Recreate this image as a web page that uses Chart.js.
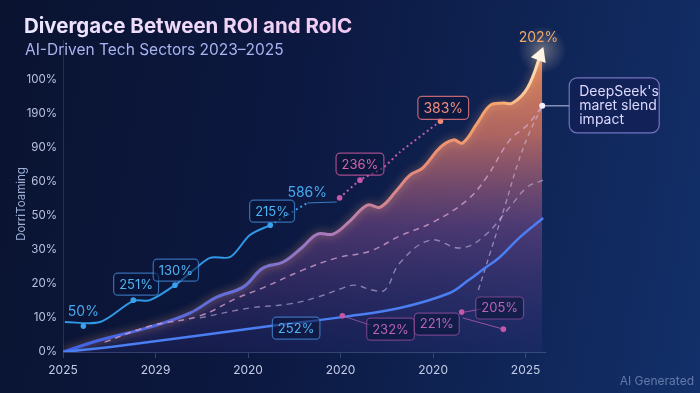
<!DOCTYPE html>
<html>
<head>
<meta charset="utf-8">
<script src="https://cdn.jsdelivr.net/npm/chart.js@4.4.1/dist/chart.umd.min.js"></script>
<style>
html, body { margin: 0; padding: 0; }
body {
    width: 700px; height: 393px; overflow: hidden;
    background: linear-gradient(100deg, #0a1330 0%, #0c1840 40%, #10275a 78%, #13306a 100%);
}
</style>
</head>
<body>
<canvas id="myChartRoi" width="700" height="393"></canvas>
<script>

// axis labels (as printed on the picture)
const xLabels = ['2025', '2029', '2020', '2020', '2020', '2025'];
const yLabels = ['0%', '10%', '20%', '30%', '50%', '60%', '90%', '190%', '100%'];

// main ROI area (wavy, ends with arrow)
const roiX = [0, 0.40, 0.94, 1.37, 1.66, 1.95, 2.16, 2.38, 2.59, 2.75, 2.92, 3.10, 3.29, 3.43, 3.61, 3.75, 3.89, 4.08, 4.22, 4.32, 4.48, 4.62, 4.76, 4.86, 5.02, 5.18];
const roiY = [0, 0.35, 0.73, 1.14, 1.61, 1.91, 2.46, 2.64, 3.08, 3.46, 3.46, 3.84, 4.31, 4.25, 4.75, 5.19, 5.40, 6.01, 6.22, 6.13, 6.72, 7.24, 7.30, 7.30, 7.74, 8.86];

// RoIC solid blue line
const roicX = [0, 0.62, 2.24, 3.03, 3.64, 4.18, 4.37, 4.56, 4.72, 4.94, 5.19];
const roicY = [0, 0.18, 0.76, 1.03, 1.29, 1.73, 2.08, 2.46, 2.78, 3.37, 3.93];

// dashed projections
const dashAX = [0.45, 0.94, 1.48, 1.88, 2.16, 2.59, 2.96, 3.32, 3.64, 4.00, 4.37, 4.58, 4.83, 5.02, 5.18];
const dashAY = [0.29, 0.76, 1.06, 1.58, 1.88, 2.40, 2.76, 2.96, 3.40, 3.81, 4.46, 5.13, 6.22, 6.66, 7.21];
const dashBX = [4.49, 4.62, 4.78, 4.91, 5.03, 5.18];
const dashBY = [1.82, 2.93, 4.31, 5.48, 6.36, 7.21];
const dashCX = [1.48, 2.02, 2.45, 2.75, 3.03, 3.16, 3.34, 3.48, 3.64, 3.97, 4.29, 4.54, 4.83, 5.02, 5.19];
const dashCY = [1.00, 1.29, 1.41, 1.61, 1.88, 1.96, 1.82, 1.82, 2.61, 3.28, 3.05, 3.37, 4.25, 4.84, 5.04];

// annotation trend line (blue part, dotted part, pink part)
const trendX = [0.02, 0.40, 0.76, 0.94, 1.21, 1.41, 1.59, 1.81, 2.02, 2.24];
const trendY = [0.88, 0.88, 1.50, 1.52, 1.96, 2.40, 2.76, 2.79, 3.43, 3.72];
const trendDotX = [2.24, 2.64];
const trendDotY = [3.72, 4.37];
const trendFlatX = [2.64, 2.96];
const trendFlatY = [4.37, 4.40];
const trendPinkX = [2.99, 3.21, 3.46, 3.64, 4.08];
const trendPinkY = [4.52, 5.04, 5.40, 5.86, 6.77];

// markers
const blueDotX = [0.22, 0.76, 1.21, 2.24];
const blueDotY = [0.76, 1.52, 1.96, 3.72];
const pinkDotX = [2.99, 3.21, 3.02, 4.31, 4.76];
const pinkDotY = [4.52, 5.04, 1.06, 1.17, 0.67];
const peakDotX = [4.08];
const peakDotY = [6.77];

// leader lines for the lower tags
const lead232X = [3.02, 3.32], lead232Y = [1.06, 0.79];
const lead205aX = [4.34, 4.52], lead205aY = [1.17, 1.26];
const lead205bX = [4.32, 4.76], lead205bY = [1.00, 0.67];

// tags
const blueTags = ['251%', '130%', '215%', '252%'];
const blueTagX = [0.79, 1.22, 2.26, 2.52];
const blueTagY = [1.99, 2.40, 4.13, 0.70];
const pinkTags = ['236%', '232%', '221%', '205%'];
const pinkTagX = [3.21, 3.54, 4.04, 4.72];
const pinkTagY = [5.51, 0.67, 0.82, 1.29];
const peakTag = '383%', peakTagX = 4.11, peakTagY = 7.16;
const looseTags = ['50%', '586%'];
const looseTagX = [0.22, 2.64];
const looseTagY = [1.17, 4.66];
const topTag = '202%';
const calloutLines = ["DeepSeek's", 'maret slend', 'impact'];
const calloutX = 5.18, calloutY = 7.22;

const FONT = 'Inter, "Noto Sans", sans-serif';

function pts(xs, ys) {
    return xs.map((x, i) => ({ x: x, y: ys[i] }));
}

function lineSet(xs, ys, color, width, dash, order, tension) {
    return {
        data: pts(xs, ys),
        borderColor: color,
        borderWidth: width,
        borderDash: dash || [],
        pointRadius: 0,
        fill: false,
        tension: tension === undefined ? 0.4 : tension,
        order: order || 2
    };
}

function dotSet(xs, ys, color) {
    return {
        data: pts(xs, ys),
        showLine: false,
        pointRadius: 2.8,
        pointBackgroundColor: color,
        pointBorderWidth: 0,
        order: 1
    };
}

function roiStroke(context) {
    const chart = context.chart;
    const a = chart.chartArea;
    if (!a) return '#4a6cf0';
    const g = chart.ctx.createLinearGradient(a.left, 0, a.right, 0);
    g.addColorStop(0, '#3f62e6');
    g.addColorStop(0.38, '#6b6fd6');
    g.addColorStop(0.56, '#b07ab8');
    g.addColorStop(0.75, '#ec8c74');
    g.addColorStop(0.9, '#f6a46c');
    g.addColorStop(1, '#fde4b8');
    return g;
}

function roiFill(context) {
    const chart = context.chart;
    const a = chart.chartArea;
    if (!a) return 'rgba(200,120,100,0.5)';
    const g = chart.ctx.createLinearGradient(0, a.top, 0, a.bottom);
    g.addColorStop(0, 'rgba(246,150,88,0.95)');
    g.addColorStop(0.3, 'rgba(214,118,100,0.8)');
    g.addColorStop(0.6, 'rgba(125,75,140,0.55)');
    g.addColorStop(1, 'rgba(55,50,130,0.22)');
    return g;
}

function roundRect(ctx, x, y, w, h, r) {
    ctx.beginPath();
    ctx.moveTo(x + r, y);
    ctx.arcTo(x + w, y, x + w, y + h, r);
    ctx.arcTo(x + w, y + h, x, y + h, r);
    ctx.arcTo(x, y + h, x, y, r);
    ctx.arcTo(x, y, x + w, y, r);
    ctx.closePath();
}

function drawTag(ctx, text, cx, cy, size, textColor, borderColor) {
    ctx.font = size + 'px ' + FONT;
    const w = ctx.measureText(text).width + 11;
    const h = size + 9;
    roundRect(ctx, cx - w / 2, cy - h / 2, w, h, 4);
    ctx.fillStyle = 'rgba(10,20,55,0.55)';
    ctx.fill();
    ctx.strokeStyle = borderColor;
    ctx.lineWidth = 1.2;
    ctx.stroke();
    ctx.fillStyle = textColor;
    ctx.textAlign = 'center';
    ctx.textBaseline = 'middle';
    ctx.fillText(text, cx, cy + 0.5);
}

// glow on the main line
const glowPlugin = {
    id: 'glow',
    beforeDatasetDraw(chart, args) {
        if (args.index !== 0) return;
        chart.ctx.save();
        chart.ctx.shadowColor = 'rgba(250,170,120,0.55)';
        chart.ctx.shadowBlur = 8;
    },
    afterDatasetDraw(chart, args) {
        if (args.index !== 0) return;
        chart.ctx.restore();
    }
};

const textPlugin = {
    id: 'texts',
    afterDraw(chart) {
        const ctx = chart.ctx;
        const xs = chart.scales.x, ys = chart.scales.y;
        const px = v => xs.getPixelForValue(v);
        const py = v => ys.getPixelForValue(v);

        ctx.save();

        // arrow head at the end of the ROI line
        const n = roiX.length;
        const tx = px(roiX[n - 1]), ty = py(roiY[n - 1]);
        const bx = px(roiX[n - 2]), by = py(roiY[n - 2]);
        const glow = ctx.createRadialGradient(tx, ty, 0, tx, ty, 24);
        glow.addColorStop(0, 'rgba(255,235,200,0.35)');
        glow.addColorStop(1, 'rgba(255,235,200,0)');
        ctx.fillStyle = glow;
        ctx.fillRect(tx - 30, ty - 30, 60, 60);
        const ang = Math.atan2(ty - by, tx - bx);
        ctx.translate(tx, ty);
        ctx.rotate(ang);
        ctx.beginPath();
        ctx.moveTo(3, 0);
        ctx.lineTo(-11, -8);
        ctx.lineTo(-11, 8);
        ctx.closePath();
        ctx.fillStyle = '#fff3e2';
        ctx.fill();
        ctx.setTransform(1, 0, 0, 1, 0, 0);

        // title + subtitle
        ctx.textAlign = 'left';
        ctx.textBaseline = 'alphabetic';
        ctx.font = 'bold 20.5px ' + FONT;
        const tg = ctx.createLinearGradient(25, 0, 360, 0);
        tg.addColorStop(0, '#ece6ff');
        tg.addColorStop(1, '#f2c8f0');
        ctx.fillStyle = tg;
        ctx.fillText('Divergace Between ROI and RoIC', 24, 33);
        ctx.font = '15.5px ' + FONT;
        ctx.fillStyle = '#a9b4f0';
        ctx.fillText('AI-Driven Tech Sectors 2023\u20132025', 25, 55);

        // y axis title
        ctx.save();
        ctx.translate(22, 204);
        ctx.rotate(-Math.PI / 2);
        ctx.textAlign = 'center';
        ctx.textBaseline = 'middle';
        ctx.font = '11.5px ' + FONT;
        ctx.fillStyle = '#9fb0d8';
        ctx.fillText('DorriToaming', 0, 0);
        ctx.restore();

        // tags
        blueTags.forEach((t, i) => {
            drawTag(ctx, t, px(blueTagX[i]), py(blueTagY[i]), 13, '#4fb2f2', 'rgba(70,140,220,0.75)');
        });
        pinkTags.forEach((t, i) => {
            const low = pinkTagY[i] < 2;
            drawTag(ctx, t, px(pinkTagX[i]), py(pinkTagY[i]), 13,
                low ? '#b863b8' : '#d565a8', low ? 'rgba(170,90,170,0.6)' : 'rgba(200,90,160,0.8)');
        });
        drawTag(ctx, peakTag, px(peakTagX), py(peakTagY), 14, '#f28a7c', 'rgba(225,115,125,0.85)');

        ctx.font = '14px ' + FONT;
        ctx.fillStyle = '#45a8ee';
        ctx.textAlign = 'center';
        ctx.textBaseline = 'middle';
        looseTags.forEach((t, i) => ctx.fillText(t, px(looseTagX[i]), py(looseTagY[i])));

        ctx.font = '14px ' + FONT;
        ctx.fillStyle = '#f2a868';
        ctx.fillText(topTag, px(5.14), 38);

        // callout
        const cx = px(calloutX), cy = py(calloutY);
        ctx.strokeStyle = 'rgba(200,205,240,0.8)';
        ctx.lineWidth = 1.2;
        ctx.beginPath();
        ctx.moveTo(cx, cy);
        ctx.lineTo(cx + 27, cy);
        ctx.stroke();
        ctx.beginPath();
        ctx.arc(cx, cy, 3, 0, Math.PI * 2);
        ctx.fillStyle = '#f4f0ff';
        ctx.fill();
        roundRect(ctx, cx + 27, cy - 28, 90, 55, 8);
        ctx.fillStyle = 'rgba(18,32,85,0.7)';
        ctx.fill();
        ctx.strokeStyle = 'rgba(150,140,225,0.75)';
        ctx.stroke();
        ctx.font = '14px ' + FONT;
        ctx.fillStyle = '#ddd9ff';
        ctx.textAlign = 'left';
        calloutLines.forEach((l, i) => ctx.fillText(l, cx + 37, cy - 14 + i * 14));

        // watermark
        ctx.font = '12px ' + FONT;
        ctx.fillStyle = 'rgba(140,162,205,0.65)';
        ctx.textAlign = 'right';
        ctx.fillText('AI Generated', 694, 381);

        ctx.restore();
    }
};

var ctxRoi = document.getElementById('myChartRoi').getContext('2d');
var myChartRoi = new Chart(ctxRoi, {
    type: 'line',
    data: {
        datasets: [
            {
                data: pts(roiX, roiY),
                borderColor: roiStroke,
                backgroundColor: roiFill,
                borderWidth: 3,
                pointRadius: 0,
                fill: 'origin',
                tension: 0.4,
                order: 10
            },
            lineSet(roicX, roicY, '#4a7ef2', 2.5, null, 3),
            lineSet(dashAX, dashAY, 'rgba(222,165,210,0.75)', 1.5, [6, 5], 4),
            lineSet(dashBX, dashBY, 'rgba(205,195,225,0.6)', 1.3, [5, 4], 4),
            lineSet(dashCX, dashCY, 'rgba(195,185,225,0.6)', 1.4, [6, 5], 4),
            lineSet(trendX, trendY, '#3198e6', 2, null, 2, 0.3),
            lineSet(trendDotX, trendDotY, '#3a9de8', 2, [2, 3], 2, 0),
            lineSet(trendFlatX, trendFlatY, 'rgba(70,150,230,0.8)', 1, null, 2, 0),
            lineSet(trendPinkX, trendPinkY, '#c65aa6', 2, [2, 3], 2, 0.2),
            lineSet(lead232X, lead232Y, 'rgba(175,95,175,0.7)', 1, null, 2, 0),
            lineSet(lead205aX, lead205aY, 'rgba(190,95,175,0.75)', 1, null, 2, 0),
            lineSet(lead205bX, lead205bY, 'rgba(190,95,175,0.75)', 1, null, 2, 0),
            dotSet(blueDotX, blueDotY, '#3aa2ec'),
            dotSet(pinkDotX, pinkDotY, '#c458a8'),
            dotSet(peakDotX, peakDotY, '#ee8a72')
        ]
    },
    options: {
        responsive: false,
        animation: false,
        layout: { padding: { top: 40, right: 155, left: 0, bottom: 0 } },
        plugins: { legend: { display: false }, tooltip: { enabled: false } },
        scales: {
            x: {
                type: 'linear',
                min: 0,
                max: 5.21,
                afterBuildTicks: s => { s.ticks = xLabels.map((l, i) => ({ value: i })); },
                afterFit: s => { s.height = 41; },
                ticks: {
                    callback: v => xLabels[v],
                    color: '#c3cbe6',
                    font: { size: 12, family: FONT },
                    padding: 5,
                    maxRotation: 0,
                    autoSkip: false
                },
                grid: { drawOnChartArea: false, color: 'rgba(120,140,200,0.35)', tickLength: 6 },
                border: { color: 'rgba(120,140,200,0.35)' }
            },
            y: {
                min: 0,
                max: 9.15,
                afterBuildTicks: s => { s.ticks = yLabels.map((l, i) => ({ value: i })); },
                afterFit: s => { s.width = 63; },
                ticks: {
                    callback: v => yLabels[v],
                    color: '#b9c2df',
                    font: { size: 11.5, family: FONT },
                    padding: 6
                },
                grid: { display: false, drawTicks: false },
                border: { color: 'rgba(120,140,200,0.22)' }
            }
        }
    },
    plugins: [glowPlugin, textPlugin]
});

</script>
</body>
</html>
